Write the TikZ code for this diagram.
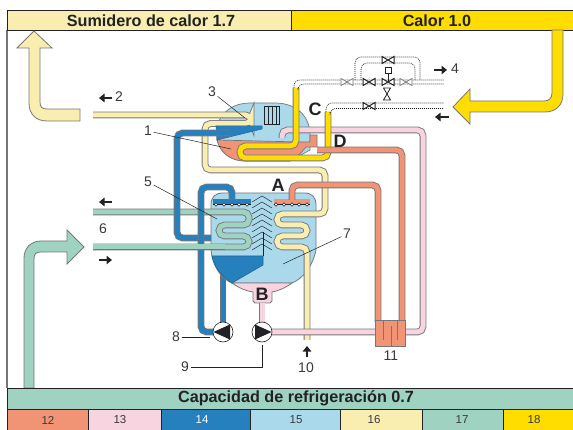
\documentclass[tikz,border=0pt]{standalone}
\usepackage{fontspec}
\setmainfont{Liberation Sans}
\usepackage{xcolor}
\usetikzlibrary{arrows.meta,calc}
\definecolor{creamc}{HTML}{F9EDB0}
\definecolor{yellowc}{HTML}{FFDD00}
\definecolor{greenc}{HTML}{9FD2C0}
\definecolor{bluec}{HTML}{2680BD}
\definecolor{skyc}{HTML}{ABD9EC}
\definecolor{salmonc}{HTML}{F19375}
\definecolor{pinkc}{HTML}{F7D4E0}
\definecolor{edgec}{HTML}{77777A}
\definecolor{darkc}{HTML}{222226}
\definecolor{wordc}{HTML}{3A3A3C}

\begin{document}
\begin{tikzpicture}[
    x=1pt, y=-1pt,
    pipe/.style={draw=edgec, line width=0.9pt, double=#1, double distance=5pt, rounded corners=5.5pt},
    bigflow/.style={draw=edgec, line width=0.8pt, fill=#1},
    legendcell/.style={draw=darkc, line width=0.7pt, fill=#1},
    titletext/.style={font=\fontsize{16.2}{16}\selectfont\bfseries, text=darkc, inner sep=0pt},
    legendtext/.style={font=\fontsize{11.5}{12}\selectfont, text=wordc, inner sep=0pt},
    marktext/.style={font=\fontsize{14}{14}\selectfont, text=wordc, inner sep=1.5pt},
    lettertext/.style={font=\fontsize{18}{18}\selectfont\bfseries, text=darkc, inner sep=0pt},
    leader/.style={draw=darkc, line width=0.5pt},
    flowmark/.style={draw=darkc, line width=1.7pt, -{Triangle[length=5.5pt,width=8.5pt]}},
    dotline/.style={draw=darkc, line width=0.6pt, dash pattern=on 1pt off 1pt, rounded corners=6pt},
    pics/valve/.style={code={
        \draw[pic actions, fill=white] (-6,-3.5) -- (6,3.5) -- (6,-3.5) -- (-6,3.5) -- cycle;
    }},
    pics/pump/.style={code={
        \draw[draw=darkc, line width=0.6pt, fill=white] (0,0) circle (10);
        \fill[darkc] (-9.6,0) -- (7,-7.5) -- (7,7.5) -- cycle;
    }}
]
    \useasboundingbox (0,0) rectangle (573,430);
    \fill[white] (0,0) rectangle (573,430);

    % Frame and header bars
    \draw[edgec, line width=1.2pt] (7,30) -- (7,388);
    \draw[legendcell=creamc] (7,10) rectangle (291,30);
    \draw[legendcell=yellowc] (291,10) rectangle (573,30);
    \node[titletext] (sink) at (151,20.5) {Sumidero de calor 1.7};
    \node[titletext] (heat) at (437,20.5) {Calor 1.0};

    % Big flows
    \draw[bigflow=creamc] (80,109) -- (47,109) .. controls (42,109) and (40,107) .. (40,102) -- (40,48) -- (52,48) -- (34,31) -- (17,48) -- (29,48)
        -- (29,103) .. controls (29,114) and (36,121) .. (47,121) -- (80,121) -- cycle;
    \draw[bigflow=yellowc] (552,30) -- (552,93) .. controls (552,98) and (549,101) .. (544,101) -- (470,101) -- (470,89) -- (453,107) -- (470,124)
        -- (470,112) -- (545,112) .. controls (556,112) and (563,105) .. (563,94) -- (563,30) -- cycle;
    \draw[bigflow=greenc] (24,388) -- (24,258) .. controls (24,248) and (31,241) .. (41,241) -- (67,241) -- (67,230) -- (84,247) -- (67,264)
        -- (67,252) -- (41,252) .. controls (36,252) and (34,254) .. (34,259) -- (34,388) -- cycle;

    % Upper vessel
    \draw[edgec, line width=0.7pt, fill=skyc] (217,126) .. controls (222,110) and (235,103) .. (250,103) -- (275,103)
        .. controls (295,103) and (310,115) .. (310,135) -- (310,150) -- (290,161) -- (245,161)
        .. controls (230,161) and (220,152) .. (217,140) -- cycle;
    \draw[edgec, line width=0.7pt, fill=salmonc] (217,140) -- (300,142) -- (310,142) -- (310,135) -- (317,135) -- (317,147)
        -- (306,147) -- (300,154) -- (290,161) -- (245,161) .. controls (230,161) and (220,152) .. (217,140) -- cycle;
    \draw[darkc, line width=0.6pt, fill=skyc] (264,106) rectangle (279,124);
    \foreach \xs in {268,272,276} {
        \draw[darkc, line width=0.5pt] (\xs,106) -- (\xs,124);
    }

    % Lower vessel
    \draw[pipe=bluec] (223,322) -- (223,268);
    \draw[edgec, line width=0.8pt, fill=skyc] (211,205) .. controls (211,197) and (215,193) .. (223,193) -- (304,193)
        .. controls (312,193) and (316,197) .. (316,205) -- (316,250) .. controls (312,268) and (302,279) .. (292,283) -- (232,283)
        .. controls (222,279) and (213,268) .. (211,250) -- cycle;
    \draw[edgec, line width=0.8pt, fill=pinkc] (232,283) -- (292,283) .. controls (285,288) and (278,291) .. (272,292)
        -- (272,301) -- (270,303) -- (255,303) -- (253,301) -- (253,292) .. controls (246,291) and (239,288) .. (232,283) -- cycle;
    \draw[bluec!80!black, line width=0.6pt, fill=bluec] (212,256) -- (263,256) -- (263,265) -- (232,283)
        .. controls (222,277) and (214,267) .. (212,256) -- cycle;

    % Spray bars and baffle
    \fill[bluec] (213,199) rectangle (251,204);
    \fill[salmonc] (274,199) rectangle (310,204);
    \draw[darkc, line width=0.5pt] (213,204) -- (251,204) (274,204) -- (310,204);
    \foreach \xs in {216,224,232,239,247,276,284,292,299,307} {
        \draw[darkc, line width=0.5pt, fill=white] (\xs,204.5) circle (1.8);
    }
    \foreach \ys in {196,202,...,244} {
        \draw[darkc, line width=0.45pt] (252,\ys+6) -- (262,\ys) -- (272,\ys+6);
    }
    \draw[darkc, line width=0.6pt] (263,232) -- (263,256);

    % Condenser coil and cooling water
    \draw[pipe=creamc] (93,115) -- (251,115) -- (251,123.5) -- (205,123.5) -- (205,170) -- (325,170) -- (325,214)
        -- (277,214) -- (277,225) -- (307,225) -- (307,236) -- (277,236) -- (277,247) -- (307,247) -- (307,340);

    % Upper wedge
    \draw[bluec!80!black, line width=0.5pt, fill=bluec] (216,126) -- (262,126) -- (262,129) -- (217,140) -- cycle;
    \draw[pipe=greenc] (93,212) -- (249,212) -- (249,225) -- (219,225) -- (219,236) -- (249,236) -- (249,247) -- (93,247);
    \draw[pipe=bluec] (230,133) -- (177,133) -- (177,238) -- (211,238);
    \draw[pipe=bluec] (232,200) -- (232,187) -- (201,187) -- (201,332) -- (215,332);
    \draw[pipe=greenc] (93,247) -- (225,247);

    % Generator, absorber and solution lines
    \draw[pipe=pinkc] (262,303) -- (262,324);
    \draw[pipe=pinkc] (272,332) -- (423,332) -- (423,130) -- (282,130) -- (282,138);
    \draw[pipe=yellowc] (296,88) -- (296,146) -- (240,146) -- (240,158) -- (328,158) -- (328,112);
    \draw[pipe=salmonc] (317,150) -- (402,150) -- (402,322);
    \draw[pipe=salmonc] (292,200) -- (292,185) -- (378,185) -- (378,322);
    \draw[edgec, line width=0.8pt, fill=salmonc] (375,320) rectangle (405,346);
    \draw[edgec, line width=0.6pt] (383,320) -- (383,340) (391,326) -- (391,346) (397,320) -- (397,340);

    % Pumps
    \pic at (223,332) {pump};
    \pic[rotate=180] at (262,332) {pump};

    % Heating lines
    \draw[dotline] (294,88) -- (294,80) -- (444,80) (298,88) -- (298,84) -- (444,84);
    \draw[dotline] (355,80) -- (355,57) -- (420,57) -- (420,80) (361,80) -- (361,63) -- (415,63) -- (415,80);
    \draw[dotline] (326,112) -- (326,103) -- (444,103) (330,112) -- (330,108.5) -- (444,108.5);
    \draw[darkc, line width=0.6pt] (388,73) -- (388,82);
    \draw[darkc, line width=0.6pt, fill=white] (385,67) rectangle (391,73);
    \pic[draw=edgec, line width=0.7pt] at (347,82) {valve};
    \pic[draw=darkc, line width=1pt] at (369,82) {valve};
    \pic[draw=darkc, line width=1pt] at (388,82) {valve};
    \pic[draw=edgec, line width=0.7pt] at (406,82) {valve};
    \pic[draw=darkc, line width=1pt] at (388,60) {valve};
    \pic[draw=darkc, line width=1pt] at (369,106) {valve};
    \pic[draw=darkc, line width=0.8pt, rotate=90] at (387,94) {valve};

    % Flow marks
    \draw[flowmark] (112,98) -- (99,98);
    \draw[flowmark] (112,202) -- (99,202);
    \draw[flowmark] (99,260) -- (112,260);
    \draw[flowmark] (434,70) -- (447,70);
    \draw[flowmark] (449,117) -- (435,117);
    \draw[flowmark] (307,357) -- (307,346);

    % Letters
    \node[lettertext] (letterA) at (278,185) {A};
    \node[lettertext] (letterB) at (262,294) {B};
    \node[lettertext] (letterC) at (315,109) {C};
    \node[lettertext] (letterD) at (340,141) {D};

    % Numbered marks
    \node[marktext] (mark1) at (148,131) {1};
    \node[marktext] (mark2) at (119,97) {2};
    \node[marktext] (mark3) at (212,92) {3};
    \node[marktext] (mark4) at (455,69) {4};
    \node[marktext] (mark5) at (148,182) {5};
    \node[marktext] (mark6) at (103,229) {6};
    \node[marktext] (mark7) at (347,234) {7};
    \node[marktext] (mark8) at (176,337) {8};
    \node[marktext] (mark9) at (185,367) {9};
    \node[marktext] (mark10) at (306,368) {10};
    \node[marktext] (mark11) at (391,356) {11};
    \coordinate (tip1) at (231,149);
    \coordinate (tip3) at (245,118);
    \coordinate (tip5) at (217,219);
    \coordinate (tip7) at (283,264);
    \coordinate (tip8) at (210,337);
    \coordinate (tip9) at (262,345);
    \draw[leader] (mark1) -- (tip1);
    \draw[leader] (mark3) -- (tip3);
    \draw[leader] (mark5) -- (tip5);
    \draw[leader] (mark7) -- (tip7);
    \draw[leader] (mark8) -- (tip8);
    \draw[leader] (mark9) -| (tip9);

    % Bottom bars
    \draw[legendcell=greenc] (7,388) rectangle (573,409);
    \node[titletext] (cold) at (296,398.5) {Capacidad de refrigeración 0.7};
    \draw[legendcell=salmonc] (7,409) rectangle (88,430);
    \draw[legendcell=pinkc] (88,409) rectangle (161,430);
    \draw[legendcell=bluec] (161,409) rectangle (250,430);
    \draw[legendcell=skyc] (250,409) rectangle (340,430);
    \draw[legendcell=creamc] (340,409) rectangle (422,430);
    \draw[legendcell=greenc] (422,409) rectangle (503,430);
    \draw[legendcell=yellowc] (503,409) rectangle (573,430);
    \node[legendtext] (key12) at (48,420) {12};
    \node[legendtext] (key13) at (120,420) {13};
    \node[legendtext, text=white] (key14) at (202,420) {14};
    \node[legendtext] (key15) at (296,420) {15};
    \node[legendtext] (key16) at (374,420) {16};
    \node[legendtext] (key17) at (462,420) {17};
    \node[legendtext] (key18) at (534,420) {18};
\end{tikzpicture}
\end{document}
